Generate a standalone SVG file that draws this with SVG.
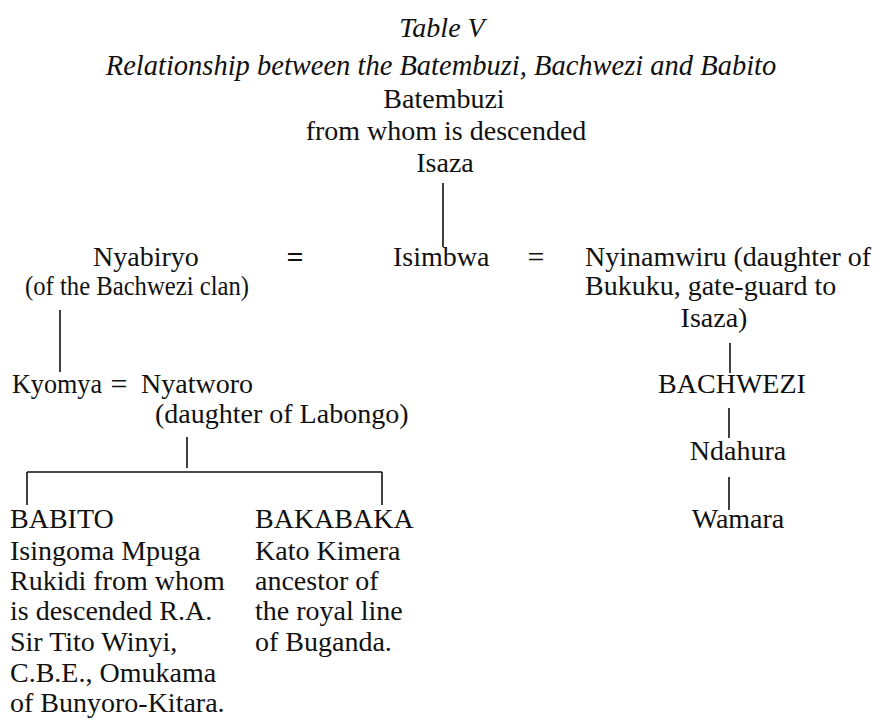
<svg xmlns="http://www.w3.org/2000/svg" width="880" height="724" viewBox="0 0 880 724">
<style>
text{font-family:"Liberation Serif","Times New Roman",serif;font-size:28px;fill:#111}
.it{font-style:italic}
.c{text-anchor:middle}
.eq{font-size:30px}
.ln{stroke:#111;stroke-width:1.6;fill:none}
</style>
<rect width="880" height="724" fill="#fff"/>
<g id="title">
<text class="it c" x="442" y="37">Table V</text>
<text class="it c" x="441" y="75" style="font-size:28.5px">Relationship between the Batembuzi, Bachwezi and Babito</text>
</g>
<g id="batembuzi">
<text class="c" x="444" y="108">Batembuzi</text>
<text class="c" x="446" y="140">from whom is descended</text>
</g>
<g id="isaza"><text class="c" x="445" y="172">Isaza</text></g>
<g id="nyabiryo">
<text class="c" x="146" y="266">Nyabiryo</text>
<text x="25" y="295" textLength="224" lengthAdjust="spacingAndGlyphs">(of the Bachwezi clan)</text>
</g>
<g id="eq1"><text class="c eq" x="295" y="267" font-weight="bold">=</text></g>
<g id="isimbwa"><text x="393" y="266">Isimbwa</text></g>
<g id="eq2"><text class="c eq" x="536" y="267">=</text></g>
<g id="nyinamwiru">
<text x="585" y="266">Nyinamwiru (daughter of</text>
<text x="585" y="295">Bukuku, gate-guard to</text>
<text class="c" x="714" y="327">Isaza)</text>
</g>
<g id="kyomya"><text x="12" y="393" textLength="90" lengthAdjust="spacingAndGlyphs">Kyomya</text></g>
<g id="eq3"><text class="c eq" x="119" y="394">=</text></g>
<g id="nyatworo">
<text x="141" y="393">Nyatworo</text>
<text x="155" y="423">(daughter of Labongo)</text>
</g>
<g id="bachwezi"><text class="c" x="732" y="393">BACHWEZI</text></g>
<g id="ndahura"><text class="c" x="738" y="460">Ndahura</text></g>
<g id="wamara"><text class="c" x="738" y="528">Wamara</text></g>
<g id="babito">
<text x="10" y="528">BABITO</text>
<text x="10" y="560">Isingoma Mpuga</text>
<text x="10" y="590">Rukidi from whom</text>
<text x="10" y="620">is descended R.A.</text>
<text x="10" y="651">Sir Tito Winyi,</text>
<text x="10" y="682">C.B.E., Omukama</text>
<text x="10" y="712">of Bunyoro-Kitara.</text>
</g>
<g id="bakabaka">
<text x="255" y="528">BAKABAKA</text>
<text x="255" y="560">Kato Kimera</text>
<text x="255" y="590">ancestor of</text>
<text x="255" y="620">the royal line</text>
<text x="255" y="651">of Buganda.</text>
</g>
<g id="connectors" class="ln">
<line x1="443" y1="183" x2="443" y2="247"/>
<line x1="60" y1="310" x2="60" y2="372"/>
<line x1="730" y1="343" x2="730" y2="373"/>
<line x1="187" y1="437" x2="187" y2="468"/>
<line x1="27" y1="472" x2="382" y2="472"/>
<line x1="27" y1="472" x2="27" y2="505"/>
<line x1="382" y1="472" x2="382" y2="505"/>
<line x1="729" y1="408" x2="729" y2="438"/>
<line x1="729" y1="477" x2="729" y2="510"/>
</g>
</svg>
